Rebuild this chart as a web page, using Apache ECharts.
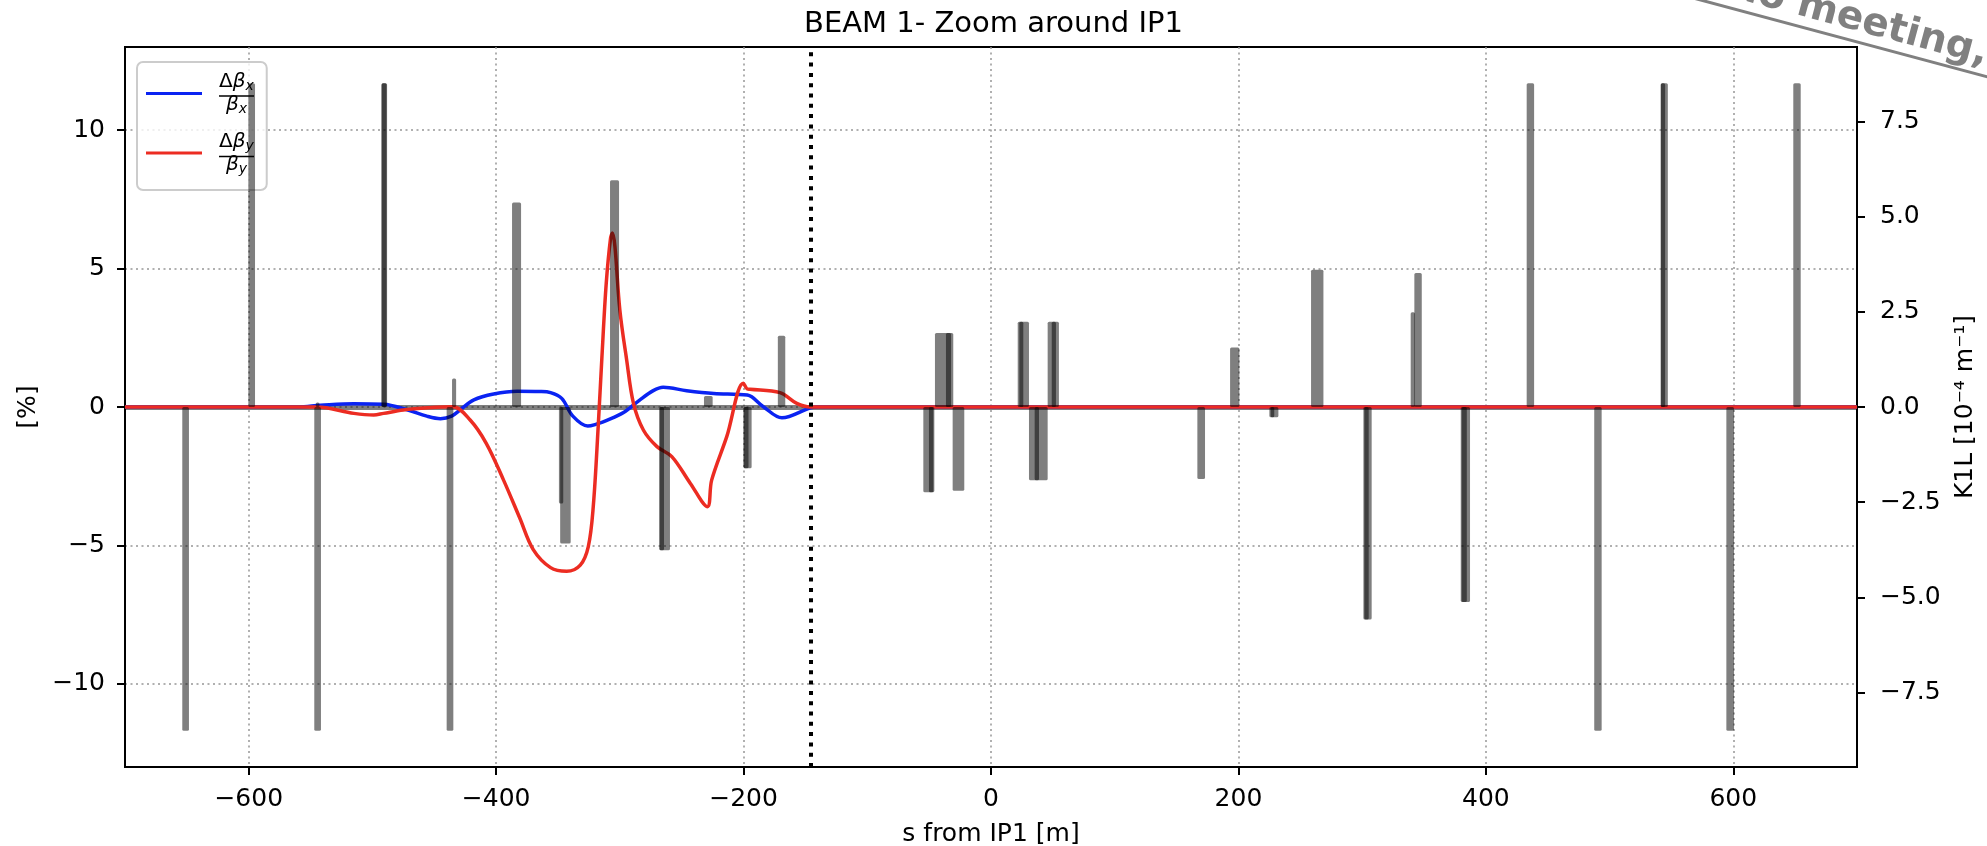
<!DOCTYPE html>
<html>
<head>
<meta charset="utf-8">
<script src="https://cdn.jsdelivr.net/npm/echarts@6/dist/echarts.min.js"></script>
<style>html,body{margin:0;padding:0;background:#fff}#c{width:1987px;height:846px}</style>
</head>
<body>
<div id="c"></div>
<script>
// ---- data ----
const title = 'BEAM 1- Zoom around IP1';
const xTicks = [-600, -400, -200, 0, 200, 400, 600];
const leftTicks = [-10, -5, 0, 5, 10];
const rightTicks = [-7.5, -5, -2.5, 0, 2.5, 5, 7.5];
const ipMarker = -146;

// quadrupoles: centre s [m], length [m], K1L [1e-4 m^-1]
const quadS   = [-651, -597.6, -544.3, -544.3, -490.4, -490.6, -437.3, -434, -383.5, -347.5, -344, -304.3, -266.15, -263.75, -228.5, -198, -196.75, -169.3,
                 -50.25, -48.4, -38.8, -33.45, -26.3, 26.15, 24.5, 34.75, 40.55, 50.35, 50.8, 169.9, 197, 228.65, 227.5, 263.7,
                 304.35, 303.55, 341, 345.2, 383.45, 382.55, 436, 490.6, 544.25, 543.15, 597.5, 651.5];
const quadLen = [5.4, 5.4, 5.4, 3, 4.5, 4, 5.4, 3.3, 7.3, 3.5, 8.5, 7.3, 3.7, 8.5, 7, 4, 6.5, 6,
                 8.9, 3.5, 13, 5.9, 9.4, 9.1, 3.2, 8.1, 10.5, 9.1, 3.4, 6.2, 7.5, 7.3, 2.9, 10,
                 6.7, 3.5, 3.5, 6, 7.5, 4.1, 6, 6, 5.7, 3.5, 6.2, 6];
const quadK1L = [-8.5, 8.5, -8.5, 0.12, 8.5, 8.5, -8.5, 0.75, 5.37, -2.53, -3.58, 5.95, -3.76, -3.76, 0.29, -1.61, -1.61, 1.87,
                 -2.24, -2.24, 1.94, 1.94, -2.2, 2.24, 2.24, -1.92, -1.92, 2.24, 2.24, -1.89, 1.56, -0.27, -0.27, 3.6,
                 -5.58, -5.58, 2.49, 3.52, -5.12, -5.12, 8.5, -8.5, 8.5, 8.5, -8.5, 8.5];

// beta-beating [%]
const bxS = [-700, -560, -542, -515, -491, -472, -456, -445, -436, -429, -418, -402, -383, -365, -356, -347, -338, -326, -319, -311, -297, -284, -273, -265, -246, -224, -197, -184, -169, -146, -140, 700];
const bxV = [0, 0, 0.06, 0.12, 0.1, -0.1, -0.33, -0.42, -0.33, -0.1, 0.26, 0.47, 0.57, 0.56, 0.52, 0.31, -0.33, -0.69, -0.62, -0.49, -0.2, 0.25, 0.59, 0.71, 0.59, 0.49, 0.43, 0.01, -0.39, -0.03, 0, 0];
const byS = [-700, -545, -515, -499, -491, -475, -455, -435, -421, -408, -394, -381, -370, -356, -343, -332, -325.5, -321.5, -317.5, -314.5, -311, -307.5, -306, -304, -300, -294.5, -289, -281, -270, -258, -243, -229.3, -225.8, -213.6, -200.2, -197, -194.8, -170.6, -157, -146, 700];
const byV = [0, 0, -0.23, -0.29, -0.23, -0.11, -0.03, 0.01, -0.47, -1.31, -2.64, -4.0, -5.15, -5.8, -5.93, -5.71, -5.04, -3.6, -0.7, 1.8, 4.47, 6.1, 6.28, 5.8, 3.5, 1.7, 0.13, -0.83, -1.43, -1.79, -2.76, -3.6, -2.64, -1.07, 0.86, 0.65, 0.64, 0.52, 0.13, 0, 0];

// ---- chart ----
const FONT = 'DejaVu Sans';
const minus = s => String(s).replace('-', '\u2212');
const zip = (a, b) => a.map((v, i) => [v, b[i]]);
const quadData = quadS.map((s, i) => [s, quadLen[i], quadK1L[i]]);

const chart = echarts.init(document.getElementById('c'), null, {renderer: 'canvas'});
const gridDots = {show: true, lineStyle: {color: 'rgba(150,150,150,0.75)', width: 2, type: [2, 3.5]}};

chart.setOption({
  animation: false,
  backgroundColor: '#ffffff',
  textStyle: {fontFamily: FONT},
  title: {text: title, left: 'center', top: 5, textStyle: {fontFamily: FONT, fontSize: 29, fontWeight: 'normal', color: '#000'}},
  grid: {left: 125, right: 130, top: 47, bottom: 79, show: true, borderColor: '#000', borderWidth: 2, containLabel: false, outerBoundsMode: 'none'},
  legend: {
    orient: 'vertical', left: 137, top: 62, padding: [10, 13, 14, 9], itemGap: 15,
    itemWidth: 56, itemHeight: 3, icon: 'rect',
    backgroundColor: 'rgba(255,255,255,0.8)', borderColor: '#cccccc', borderWidth: 2, borderRadius: 6,
    data: ['dbx', 'dby'],
    formatter: n => n === 'dbx' ? '{d|Δ}{g|β}{s|x}\n{b|β}{s|x}' : '{d|Δ}{g|β}{s|y}\n{b|β}{s|y}',
    textStyle: {
      padding: [0, 0, 0, 12],
      rich: {
        d: {fontFamily: FONT, fontSize: 20, lineHeight: 23, color: '#000'},
        g: {fontFamily: FONT, fontSize: 20, lineHeight: 23, fontStyle: 'italic', color: '#000'},
        b: {fontFamily: FONT, fontSize: 20, lineHeight: 23, fontStyle: 'italic', color: '#000', padding: [0, 0, 0, 7]},
        s: {fontFamily: FONT, fontSize: 14, lineHeight: 23, fontStyle: 'italic', color: '#000', verticalAlign: 'bottom'}
      }
    }
  },
  xAxis: {
    type: 'value', min: -700, max: 700,
    name: 's from IP1 [m]', nameLocation: 'middle', nameGap: 55,
    nameTextStyle: {fontFamily: FONT, fontSize: 25, color: '#000'},
    axisLine: {show: true, onZero: false, lineStyle: {color: '#000', width: 2}},
    axisTick: {show: true, customValues: xTicks, length: 8, lineStyle: {color: '#000', width: 2}},
    axisLabel: {customValues: xTicks, margin: 20, fontFamily: FONT, fontSize: 25, color: '#000', formatter: v => minus(v)},
    splitLine: gridDots
  },
  yAxis: [{
    type: 'value', min: -13, max: 13, position: 'left',
    name: '[%]', nameLocation: 'middle', nameGap: 84, nameRotate: 90,
    nameTextStyle: {fontFamily: FONT, fontSize: 25, color: '#000'},
    axisLine: {show: true, onZero: false, lineStyle: {color: '#000', width: 2}},
    axisTick: {show: true, customValues: leftTicks, length: 8, lineStyle: {color: '#000', width: 2}},
    axisLabel: {customValues: leftTicks, margin: 20, fontFamily: FONT, fontSize: 25, color: '#000', formatter: v => minus(v)},
    splitLine: gridDots
  }, {
    type: 'value', min: -9.45, max: 9.45, position: 'right',
    name: 'K1L [10\u207B\u2074 m\u207B\u00B9]', nameLocation: 'middle', nameGap: 96, nameRotate: 90,
    nameTextStyle: {fontFamily: FONT, fontSize: 25, color: '#000'},
    axisLine: {show: true, onZero: false, lineStyle: {color: '#000', width: 2}},
    axisTick: {show: true, customValues: rightTicks, length: 8, lineStyle: {color: '#000', width: 2}},
    axisLabel: {customValues: rightTicks, margin: 23, fontFamily: FONT, fontSize: 25, color: '#000', formatter: v => minus(Number(v).toFixed(1))},
    splitLine: {show: false}
  }],
  series: [{
    name: 'dbx', type: 'line', yAxisIndex: 0, z: 2, symbol: 'none', showSymbol: false,
    smooth: 0.35,
    lineStyle: {color: '#0a23f2', width: 3.5}, itemStyle: {color: '#0a23f2'},
    data: zip(bxS, bxV),
    markLine: {silent: true, z: 1, symbol: ['none', 'none'], label: {show: false},
      lineStyle: {color: 'rgba(0,0,0,0.5)', width: 5, type: 'solid'}, data: [{yAxis: 0}]}
  }, {
    name: 'dby', type: 'line', yAxisIndex: 0, z: 3, symbol: 'none', showSymbol: false,
    smooth: 0.35,
    lineStyle: {color: '#ec2c22', width: 3.5}, itemStyle: {color: '#ec2c22'},
    data: zip(byS, byV),
    markLine: {silent: true, z: 4, symbol: ['none', 'none'], label: {show: false},
      lineStyle: {color: '#000', width: 4, type: [4, 6.3]}, data: [{xAxis: ipMarker}]}
  }, {
    name: 'K1L', type: 'custom', yAxisIndex: 1, z: 6, clip: true,
    encode: {x: 0, y: 2},
    data: quadData,
    renderItem: (params, api) => {
      const s = api.value(0), w = api.value(1), k = api.value(2);
      const p1 = api.coord([s - w / 2, k]);
      const p2 = api.coord([s + w / 2, 0]);
      return {type: 'rect',
        shape: {x: Math.min(p1[0], p2[0]), y: Math.min(p1[1], p2[1]), width: Math.abs(p2[0] - p1[0]), height: Math.abs(p2[1] - p1[1]), r: 1.5},
        style: {fill: 'rgba(0,0,0,0.5)'}};
    }
  }],
  graphic: [
    {type: 'line', z: 10, shape: {x1: 219, y1: 96, x2: 254, y2: 96}, style: {stroke: '#000', lineWidth: 1.5}},
    {type: 'line', z: 10, shape: {x1: 219, y1: 156.5, x2: 254, y2: 156.5}, style: {stroke: '#000', lineWidth: 1.5}},
    {type: 'group', x: 1810, y: 20, rotation: -15 * Math.PI / 180, z: 20, children: [
      {type: 'text', x: -84, y: -12, style: {text: 'no meeting,', font: 'bold 39px "DejaVu Sans"', fill: '#808080', verticalAlign: 'middle'}},
      {type: 'line', shape: {x1: -200, y1: 9, x2: 400, y2: 9}, style: {stroke: '#808080', lineWidth: 3}}
    ]}
  ]
});
</script>
</body>
</html>
